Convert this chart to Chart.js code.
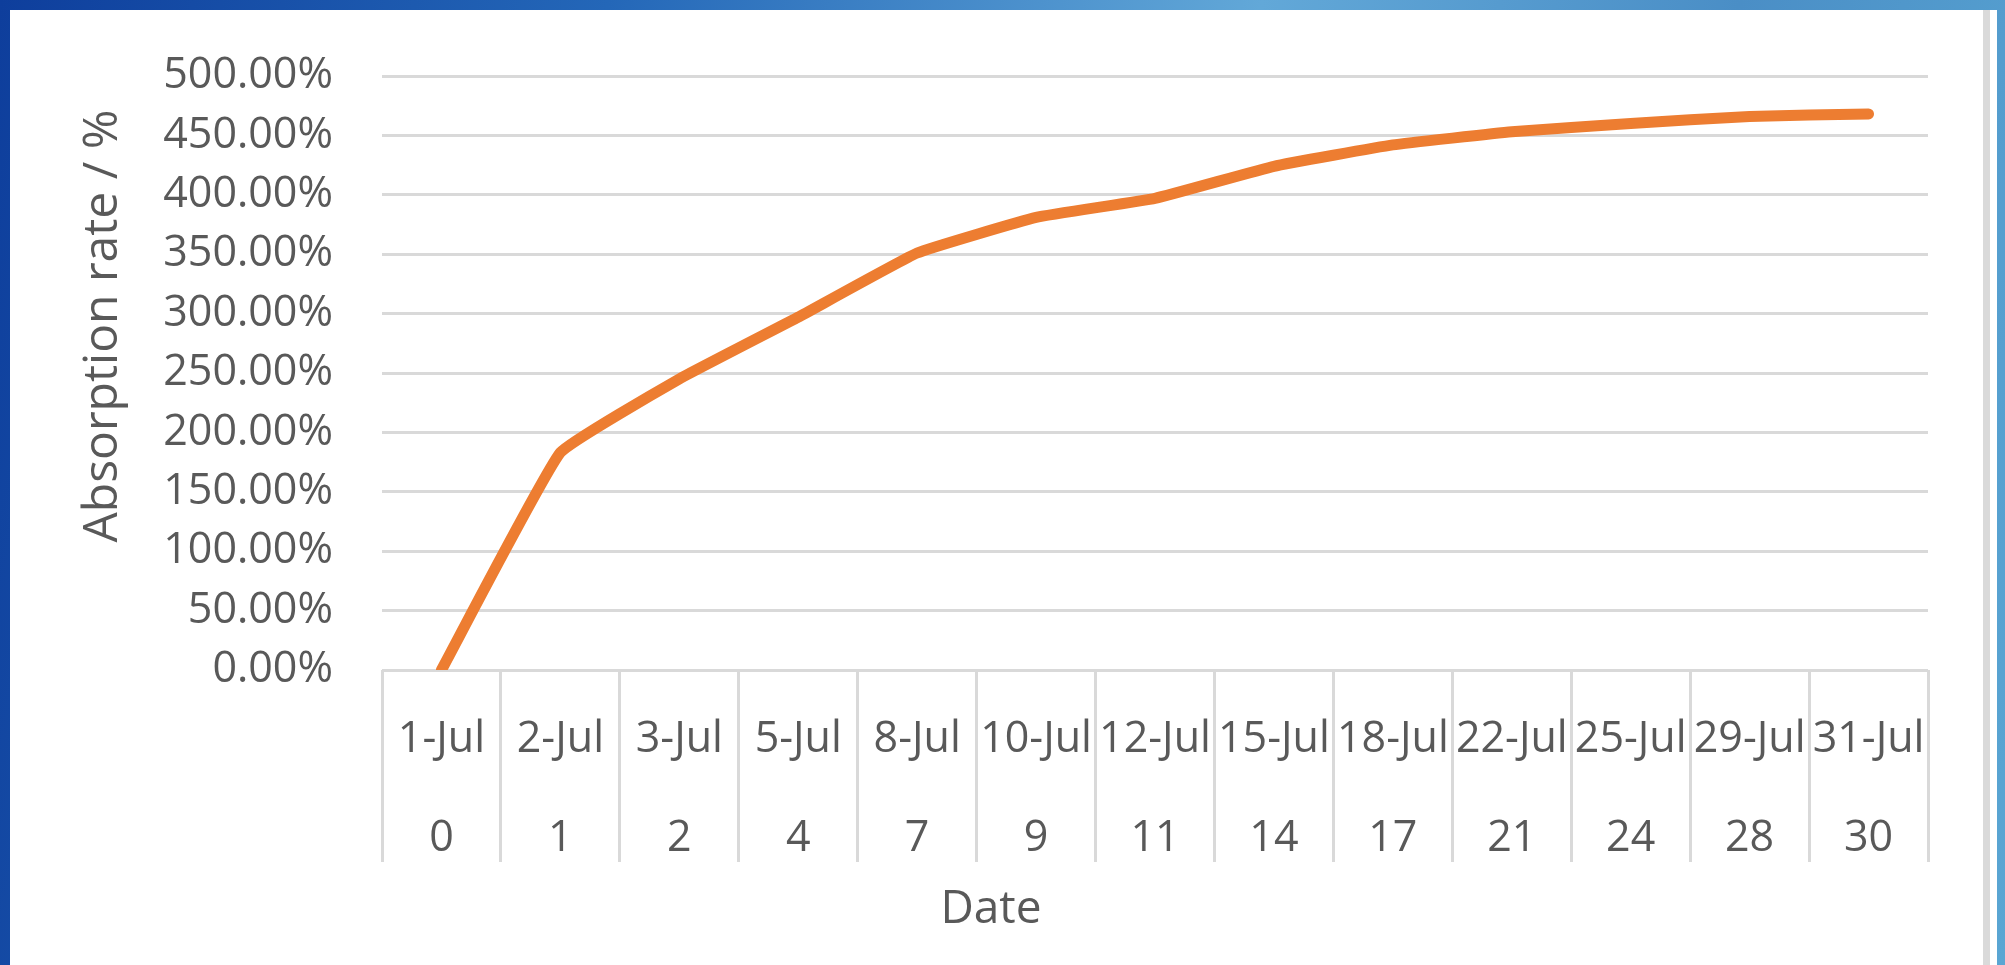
<!DOCTYPE html>
<html>
<head>
<meta charset="utf-8">
<title>Absorption rate</title>
<script src="https://cdn.jsdelivr.net/npm/chart.js@4.4.0/dist/chart.umd.min.js"></script>
<style>
  html, body { margin: 0; padding: 0; }
  body {
    width: 2005px;
    height: 965px;
    overflow: hidden;
    position: relative;
    background: linear-gradient(100deg, #0e3e9c 0%, #2467b8 28%, #62a8d8 58%, #4a8ec6 80%, #5aa6d3 100%);
  }
  .panel {
    position: absolute;
    left: 10px;
    top: 10px;
    width: 1987px;
    height: 955px;
    background: #fff;
  }
  .panel canvas { position: absolute; left: 0; top: 0; }
  .edge {
    position: absolute;
    left: 1973px;
    top: 0;
    width: 7px;
    height: 955px;
    background: #dadada;
  }
</style>
</head>
<body>
<div class="panel">
  <canvas id="chartCanvas" width="1973" height="955"></canvas>
  <div class="edge"></div>
</div>
<script>
// Data
const dateLabels = ['1-Jul', '2-Jul', '3-Jul', '5-Jul', '8-Jul', '10-Jul', '12-Jul', '15-Jul', '18-Jul', '22-Jul', '25-Jul', '29-Jul', '31-Jul'];
const dayLabels = ['0', '1', '2', '4', '7', '9', '11', '14', '17', '21', '24', '28', '30'];
const absorptionRate = [0, 183, 245, 297, 351, 381, 397, 424, 442, 453, 460, 466, 468];

const yMin = 0;
const yMax = 500;
const yStep = 50;

const yTitle = 'Absorption rate / %';
const xTitle = 'Date';

const textColor = '#595959';
const gridColor = '#d9d9d9';
const fontFamily = '"Open Sans", "Noto Sans", sans-serif';

// two-row category labels (date over day number)
const labels = dateLabels.map((d, i) => [d, dayLabels[i]]);

// axis titles, placed the way the spreadsheet put them
const axisTitles = {
  id: 'axisTitles',
  afterDraw(chart) {
    const ctx = chart.ctx;
    ctx.save();
    ctx.fillStyle = textColor;
    ctx.textAlign = 'center';
    ctx.textBaseline = 'alphabetic';

    ctx.font = '48px ' + fontFamily;
    ctx.translate(107, 316);
    ctx.rotate(-Math.PI / 2);
    ctx.fillText(yTitle, 0, 0);
    ctx.restore();

    ctx.save();
    ctx.fillStyle = textColor;
    ctx.textAlign = 'center';
    ctx.textBaseline = 'alphabetic';
    ctx.font = '46px ' + fontFamily;
    ctx.fillText(xTitle, 981, 913);
    ctx.restore();
  }
};

new Chart(document.getElementById('chartCanvas'), {
  type: 'line',
  data: {
    labels: labels,
    datasets: [{
      label: 'Absorption rate',
      data: absorptionRate,
      borderColor: '#ed7d31',
      borderWidth: 11,
      borderCapStyle: 'round',
      borderJoinStyle: 'round',
      pointRadius: 0,
      tension: 0.1,
      fill: false,
      clip: 0
    }]
  },
  options: {
    responsive: false,
    animation: false,
    layout: { padding: { left: 0, right: 55, top: 66, bottom: 0 } },
    plugins: {
      legend: { display: false },
      tooltip: { enabled: false }
    },
    scales: {
      x: {
        type: 'category',
        offset: true,
        border: { display: false },
        grid: {
          offset: true,
          drawOnChartArea: false,
          drawTicks: true,
          tickLength: 192,
          tickColor: gridColor,
          tickWidth: 3,
          color: gridColor,
          lineWidth: 3
        },
        ticks: {
          autoSkip: false,
          maxRotation: 0,
          minRotation: 0,
          padding: -172,
          color: textColor,
          font: { family: fontFamily, size: 43, lineHeight: 2.3 }
        },
        afterFit(scale) { scale.height = 295; }
      },
      y: {
        min: yMin,
        max: yMax,
        border: { display: false },
        grid: {
          drawTicks: true,
          tickLength: 49,
          tickColor: 'rgba(0,0,0,0)',
          color: gridColor,
          lineWidth: 3
        },
        ticks: {
          stepSize: yStep,
          padding: 0,
          color: textColor,
          font: { family: fontFamily, size: 43 },
          callback: v => v.toFixed(2) + '%'
        },
        afterFit(scale) { scale.width = 372; }
      }
    }
  },
  plugins: [axisTitles]
});
</script>
</body>
</html>
